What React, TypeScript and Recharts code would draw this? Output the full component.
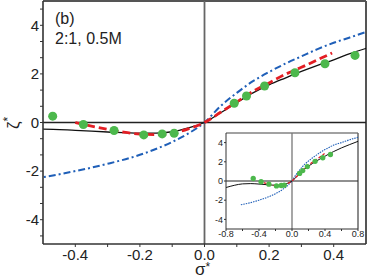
import React from 'react';
import {
  ComposedChart,
  Line,
  Scatter,
  XAxis,
  YAxis,
  ZAxis,
  ReferenceLine,
} from 'recharts';

// measured points (sigma*, zeta*)
const PT_X = [-0.47, -0.375, -0.28, -0.188, -0.131, -0.094, 0.092, 0.13, 0.186, 0.28, 0.373, 0.466];
const PT_Y = [0.26, -0.08, -0.33, -0.51, -0.47, -0.44, 0.79, 1.09, 1.5, 2.05, 2.42, 2.76];

// solid black model
const FIT_X = [-0.8, -0.7, -0.6, -0.5, -0.4, -0.3, -0.2, -0.15, -0.1, -0.05, 0, 0.05, 0.1, 0.15, 0.2, 0.25, 0.3, 0.35, 0.4, 0.45, 0.5, 0.6, 0.7, 0.8];
const FIT_Y = [-0.68, -0.45, -0.3, -0.27, -0.32, -0.39, -0.44, -0.44, -0.38, -0.22, 0, 0.4, 0.82, 1.22, 1.55, 1.83, 2.1, 2.35, 2.58, 2.83, 3.05, 3.45, 3.8, 4.13];

// red dashed model
const SIM_X = [-0.4, -0.35, -0.3, -0.25, -0.2, -0.15, -0.1, -0.05, 0, 0.05, 0.1, 0.15, 0.2, 0.25, 0.3, 0.35, 0.395];
const SIM_Y = [0, -0.15, -0.28, -0.4, -0.48, -0.5, -0.44, -0.26, 0, 0.42, 0.85, 1.28, 1.63, 1.98, 2.27, 2.58, 2.86];

// blue dash-dot model
const LIN_X = [-0.62, -0.5, -0.4, -0.3, -0.2, -0.1, -0.05, 0, 0.05, 0.1, 0.15, 0.2, 0.25, 0.3, 0.35, 0.4, 0.45, 0.5, 0.6, 0.7, 0.8];
const LIN_Y = [-2.47, -2.25, -2.0, -1.7, -1.33, -0.8, -0.45, 0, 0.68, 1.22, 1.7, 2.08, 2.42, 2.72, 3.02, 3.28, 3.5, 3.72, 4.0, 4.3, 4.55];

const MAIN_X_TICKS = [-0.4, -0.3, -0.2, -0.1, 0, 0.1, 0.2, 0.3, 0.4];
const MAIN_Y_TICKS = [-4.667, -4, -3.333, -2.667, -2, -1.333, -0.667, 0, 0.667, 1.333, 2, 2.667, 3.333, 4, 4.667];
const INSET_X_TICKS = [-0.8, -0.6, -0.4, -0.2, 0, 0.2, 0.4, 0.6, 0.8];
const INSET_Y_TICKS = [-4, -2, 0, 2, 4];

const zip = (xs: number[], ys: number[]) => xs.map((x, i) => ({ x, y: ys[i] }));
const points = zip(PT_X, PT_Y);
const fit = zip(FIT_X, FIT_Y);
const sim = zip(SIM_X, SIM_Y);
const lin = zip(LIN_X, LIN_Y);

const FONT = '"Liberation Sans", Arial, sans-serif';
const GREEN = '#4cb84c';
const RED = '#e31e24';
const BLUE = '#1f5fb8';

const fmtMainX = (v: number) => (Math.round(v * 10) % 2 === 0 ? v.toFixed(1) : '');
const fmtInsetX = (v: number) => (Math.round(v * 10) % 4 === 0 ? v.toFixed(1) : '');
const fmtY = (v: number) => {
  const r = Math.round(v);
  return Math.abs(v - r) < 0.01 && r % 2 === 0 ? String(r) : '';
};

const MainChart = () => (
  <ComposedChart width={368} height={277} margin={{ top: 1, right: 2, left: 0, bottom: 0 }}>
    <XAxis
      type="number"
      dataKey="x"
      domain={[-0.5, 0.5]}
      allowDataOverflow
      ticks={MAIN_X_TICKS}
      tickFormatter={fmtMainX}
      height={33}
      tickSize={3}
      tickMargin={2}
      axisLine={{ stroke: '#333', strokeWidth: 1.6 }}
      tickLine={{ stroke: '#333' }}
      tick={{ fontSize: 15, fill: '#222', fontFamily: FONT }}
    />
    <YAxis
      type="number"
      dataKey="y"
      domain={[-5, 5]}
      allowDataOverflow
      ticks={MAIN_Y_TICKS}
      tickFormatter={fmtY}
      width={43}
      tickSize={3}
      tickMargin={1}
      axisLine={{ stroke: '#333', strokeWidth: 1.6 }}
      tickLine={{ stroke: '#333' }}
      tick={{ fontSize: 15, fill: '#222', fontFamily: FONT }}
    />
    <ReferenceLine y={5} stroke="#555" strokeWidth={2} />
    <ReferenceLine x={0.5} stroke="#555" strokeWidth={2} />
    <ReferenceLine y={0} stroke="#222" strokeWidth={1.5} />
    <ReferenceLine x={0} stroke="#666" strokeWidth={1.8} />
    <Line data={lin} dataKey="y" type="monotone" stroke={BLUE} strokeWidth={2} strokeDasharray="7 3 2 3" dot={false} isAnimationActive={false} />
    <Line data={fit} dataKey="y" type="monotone" stroke="#111" strokeWidth={1.3} dot={false} isAnimationActive={false} />
    <Line data={sim} dataKey="y" type="monotone" stroke={RED} strokeWidth={2.8} strokeDasharray="8 4" dot={false} isAnimationActive={false} />
    <Scatter data={points} dataKey="y" fill={GREEN} isAnimationActive={false} />
  </ComposedChart>
);

const InsetChart = () => (
  <ComposedChart width={157} height={112} margin={{ top: 5, right: 7, left: 0, bottom: 0 }}>
    <XAxis
      type="number"
      dataKey="x"
      domain={[-0.8, 0.8]}
      allowDataOverflow
      ticks={INSET_X_TICKS}
      tickFormatter={fmtInsetX}
      height={11}
      tickSize={2}
      tickMargin={0}
      axisLine={{ stroke: '#333', strokeWidth: 1 }}
      tickLine={{ stroke: '#333' }}
      tick={{ fontSize: 9, fill: '#222', fontFamily: FONT }}
      interval={0}
    />
    <YAxis
      type="number"
      dataKey="y"
      domain={[-5, 5]}
      allowDataOverflow
      ticks={INSET_Y_TICKS}
      tickFormatter={fmtY}
      width={18}
      tickSize={2}
      tickMargin={1}
      axisLine={{ stroke: '#333', strokeWidth: 1 }}
      tickLine={{ stroke: '#333' }}
      tick={{ fontSize: 9, fill: '#222', fontFamily: FONT }}
      interval={0}
    />
    <ZAxis range={[22, 22]} />
    <ReferenceLine y={5} stroke="#444" strokeWidth={1.2} />
    <ReferenceLine x={0.8} stroke="#666" strokeWidth={1.5} />
    <ReferenceLine y={0} stroke="#222" strokeWidth={1.2} />
    <ReferenceLine x={0} stroke="#777" strokeWidth={1.3} />
    <Line data={lin} dataKey="y" type="monotone" stroke={BLUE} strokeWidth={1.1} strokeDasharray="1.5 1" dot={false} isAnimationActive={false} />
    <Line data={fit} dataKey="y" type="monotone" stroke="#111" strokeWidth={1} dot={false} isAnimationActive={false} />
    <Line data={sim} dataKey="y" type="monotone" stroke={RED} strokeWidth={1.3} strokeDasharray="3 2" dot={false} isAnimationActive={false} />
    <Scatter data={points} dataKey="y" fill={GREEN} isAnimationActive={false} />
  </ComposedChart>
);

export default function App() {
  return (
    <div style={{ position: 'absolute', left: 0, top: 0, width: 368, height: 277, background: '#fff', fontFamily: FONT }}>
      <MainChart />
      <div style={{ position: 'absolute', left: 208, top: 128 }}>
        <InsetChart />
      </div>
      <svg width={368} height={277} style={{ position: 'absolute', left: 0, top: 0, pointerEvents: 'none' }}>
        <text x={55} y={23.5} fontSize={16} fill="#222" fontFamily={FONT}>(b)</text>
        <text x={55} y={44} fontSize={16} fill="#222" fontFamily={FONT}>2:1, 0.5M</text>
        <text x={195} y={275} fontSize={17} fill="#222" fontFamily={FONT}>σ</text>
        <text x={205.5} y={271} fontSize={12} fill="#222" fontFamily={FONT}>*</text>
        <text transform="translate(19,129) rotate(-90)" fontSize={17} fill="#222" fontFamily={FONT}>
          ζ<tspan dy={-7} fontSize={12}>*</tspan>
        </text>
      </svg>
    </div>
  );
}
